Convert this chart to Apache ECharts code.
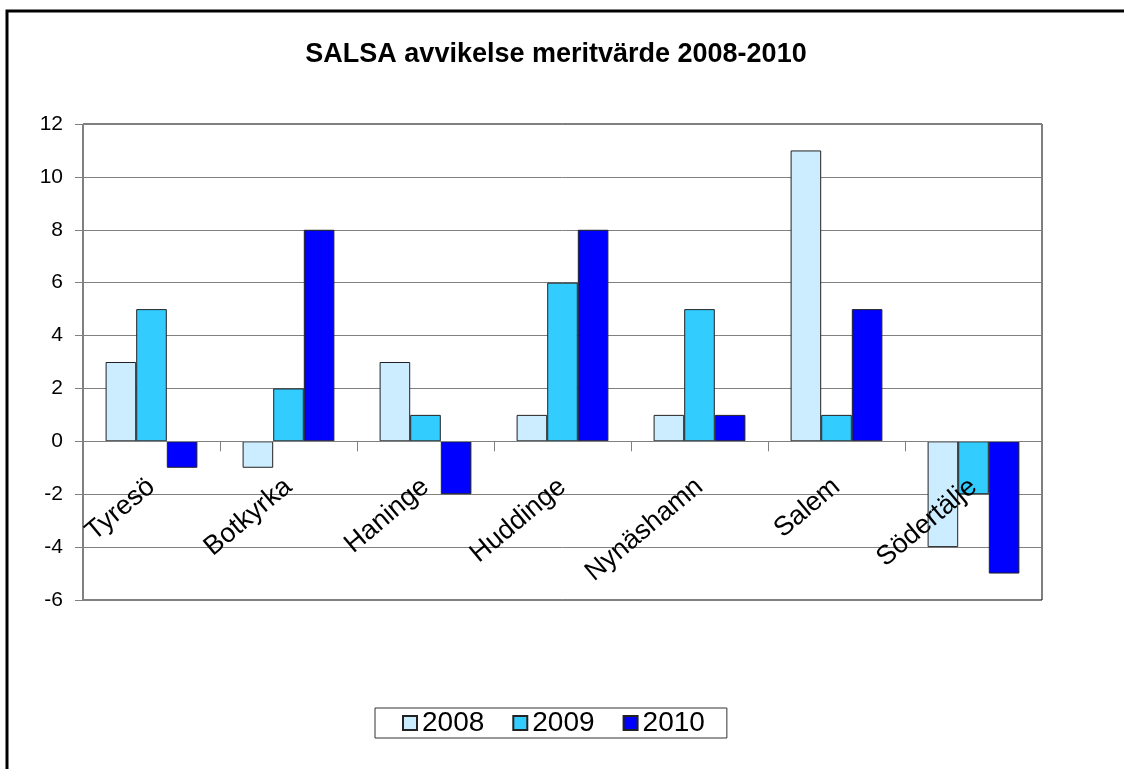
<!DOCTYPE html>
<html>
<head>
<meta charset="utf-8">
<script src="https://cdn.jsdelivr.net/npm/echarts@6/dist/echarts.min.js"></script>
<style>
  html, body { margin: 0; padding: 0; background: #fff; }
  #chart { width: 1124px; height: 769px; }
</style>
</head>
<body>
<div id="chart"></div>
<script>
// kommuner
const categories = ['Tyresö', 'Botkyrka', 'Haninge', 'Huddinge', 'Nynäshamn', 'Salem', 'Södertälje'];
const years = ['2008', '2009', '2010'];
const values2008 = [3, -1, 3, 1, 1, 11, -4];
const values2009 = [5, 2, 1, 6, 5, 1, -2];
const values2010 = [-1, 8, -2, 8, 1, 5, -5];
const yTicks = { min: -6, max: 12, interval: 2 };

const colors = ['#CCECFF', '#33CCFF', '#0000FF'];
const font = 'Liberation Sans, Arial, sans-serif';

// plot area: 124..600 px, zero line lifted up from the bottom edge
const gridTop = 124, gridBottom = 169, plotH = 769 - gridTop - gridBottom;
const zeroOffset = plotH * (0 - yTicks.min) / (yTicks.max - yTicks.min);

const myChart = echarts.init(document.getElementById('chart'));

function bar(name, data, color) {
  return {
    name: name,
    type: 'bar',
    data: data,
    barGap: 0,
    barCategoryGap: '33%',
    itemStyle: { color: color, borderColor: '#222', borderWidth: 1 }
  };
}

myChart.setOption({
  animation: false,
  textStyle: { fontFamily: font },
  graphic: [{
    type: 'rect',
    shape: { x: 7, y: 11, width: 1300, height: 900 },
    style: { fill: 'none', stroke: '#000', lineWidth: 3 },
    silent: true
  }],
  title: {
    text: 'SALSA avvikelse meritvärde 2008-2010',
    left: 551,
    textAlign: 'center',
    top: 36,
    textStyle: { fontSize: 27, fontWeight: 'bold', color: '#000', fontFamily: font }
  },
  legend: {
    data: years,
    left: 375,
    top: 708,
    icon: 'rect',
    itemWidth: 14,
    itemHeight: 14,
    itemGap: 28,
    padding: [1, 22, 1, 27],
    borderColor: '#333',
    borderWidth: 1,
    textStyle: { fontSize: 28, color: '#000', fontFamily: font }
  },
  grid: {
    left: 83,
    right: 82,
    top: gridTop,
    bottom: gridBottom,
    show: true,
    borderColor: '#000',
    borderWidth: 1
  },
  xAxis: {
    type: 'category',
    data: categories,
    z: 3,
    offset: -zeroOffset,
    axisLine: { onZero: false, lineStyle: { color: '#808080', width: 1 } },
    axisTick: { show: true, length: 10, lineStyle: { color: '#808080' } },
    axisLabel: { rotate: 40, margin: 42, fontSize: 27, color: '#000', fontFamily: font },
    splitLine: { show: false }
  },
  yAxis: {
    type: 'value',
    min: yTicks.min,
    max: yTicks.max,
    interval: yTicks.interval,
    axisLine: { show: true, lineStyle: { color: '#808080' } },
    axisTick: { show: true, length: 8, lineStyle: { color: '#808080' } },
    axisLabel: { fontSize: 21, color: '#000', margin: 20, fontFamily: font },
    splitLine: { lineStyle: { color: '#808080', width: 1 } }
  },
  series: [
    bar(years[0], values2008, colors[0]),
    bar(years[1], values2009, colors[1]),
    bar(years[2], values2010, colors[2])
  ]
});
</script>
</body>
</html>
